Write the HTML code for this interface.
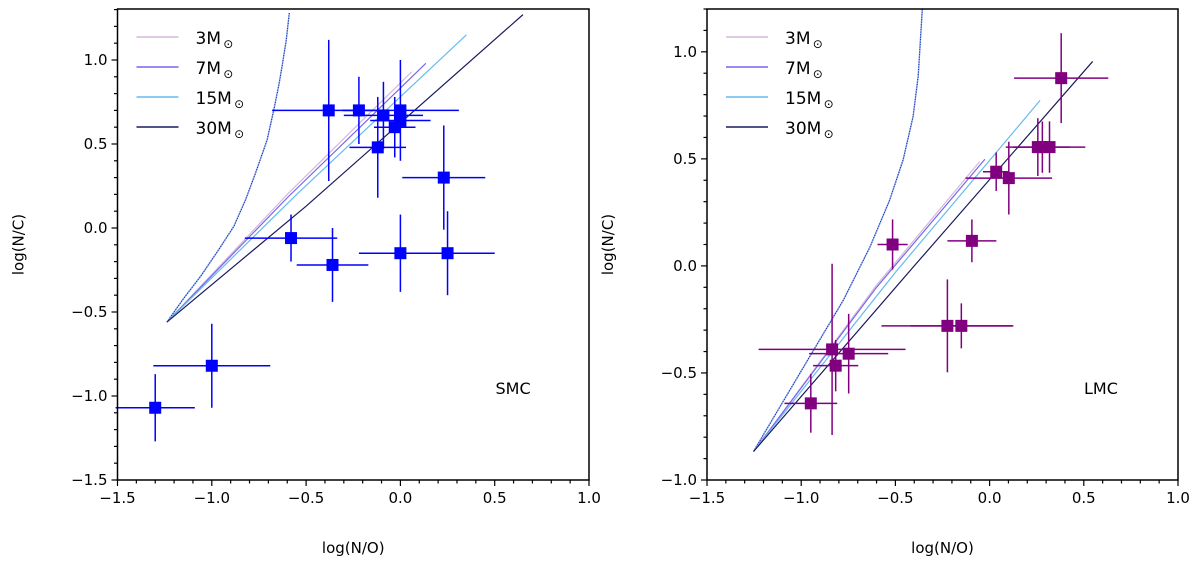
<!DOCTYPE html>
<html><head><meta charset="utf-8"><style>
body{margin:0;background:#fff;font-family:"Liberation Sans","DejaVu Sans",sans-serif}
svg text{font-family:"DejaVu Sans","Liberation Sans",sans-serif}
</style></head><body>
<svg id="fig" width="1200" height="565" xmlns="http://www.w3.org/2000/svg"></svg>
<script>
// SMC data
const smcX=[-0.38,-0.22,-0.09,0.0,0.0,-0.03,-0.12,0.23,-0.58,-0.36,0.0,0.25,-1.0,-1.3];
const smcY=[0.70,0.70,0.67,0.70,0.64,0.60,0.48,0.30,-0.06,-0.22,-0.15,-0.15,-0.82,-1.07];
const smcXerr=[0.30,0.08,0.21,0.31,0.16,0.11,0.15,0.22,0.245,0.19,0.22,0.25,0.31,0.21];
const smcYerr=[0.42,0.20,0.20,0.30,0.05,0.18,0.30,0.31,0.14,0.22,0.23,0.25,0.25,0.20];
// LMC data
const lmcX=[0.38,0.256,0.28,0.318,0.035,0.102,-0.515,-0.094,-0.224,-0.15,-0.836,-0.748,-0.817,-0.949];
const lmcY=[0.877,0.555,0.555,0.555,0.44,0.41,0.10,0.117,-0.28,-0.28,-0.39,-0.41,-0.466,-0.642];
const lmcXerr=[0.25,0.17,0.05,0.19,0.07,0.23,0.08,0.13,0.35,0.27,0.39,0.21,0.12,0.14];
const lmcYerr=[0.21,0.135,0.12,0.12,0.09,0.17,0.117,0.10,0.217,0.105,0.40,0.186,0.12,0.137];
// model tracks
const smcModelX={m3:[-1.238,-0.6,0.06],m7:[-1.238,-0.6,0.135],m15:[-1.238,-0.55,0.35],m30:[-1.238,-0.5,0.65]};
const smcModelY={m3:[-0.56,0.2,0.93],m7:[-0.56,0.18,0.98],m15:[-0.56,0.2,1.15],m30:[-0.56,0.13,1.27]};
const smcDotX=[-1.238,-1.15,-1.061,-0.97,-0.884,-0.82,-0.769,-0.707,-0.672,-0.645,-0.628,-0.605,-0.589];
const smcDotY=[-0.56,-0.42,-0.29,-0.14,0.008,0.17,0.325,0.524,0.70,0.85,0.96,1.12,1.28];
const lmcModelX={m3:[-1.253,-0.6,-0.053],m7:[-1.253,-0.6,-0.025],m15:[-1.253,-0.5,0.268],m30:[-1.253,-0.4,0.547]};
const lmcModelY={m3:[-0.867,-0.09,0.487],m7:[-0.867,-0.1,0.498],m15:[-0.867,-0.03,0.773],m30:[-0.867,0.0,0.955]};
const lmcDotX=[-1.253,-1.094,-0.935,-0.777,-0.635,-0.530,-0.459,-0.406,-0.379,-0.357];
const lmcDotY=[-0.867,-0.63,-0.395,-0.161,0.089,0.308,0.495,0.698,0.886,1.198];
const xTicks=[-1.5,-1.0,-0.5,0.0,0.5,1.0];
const smcYTicks=[-1.5,-1.0,-0.5,0.0,0.5,1.0];
const lmcYTicks=[-1.0,-0.5,0.0,0.5,1.0];
const modelNames=["3","7","15","30"];
const modelKeys=["m3","m7","m15","m30"];
const modelColors=["#d4b8d8","#7766ee","#66bbf0","#1a1a5e"];

const NS="http://www.w3.org/2000/svg";
const svg=document.getElementById('fig');
function el(tag,attrs,parent,txt){const e=document.createElementNS(NS,tag);for(const k in attrs)e.setAttribute(k,attrs[k]);if(txt!==undefined)e.textContent=txt;(parent||svg).appendChild(e);return e;}
function fmt(v){const s=Math.abs(v).toFixed(1);return (v<-1e-9?'\u2212':'')+s;}

function panel(o){
  const g=el('g',{});
  
  
  const sx=v=>o.L+(v-o.x0)/(o.x1-o.x0)*(o.R-o.L);
  const sy=v=>o.B-(v-o.y0)/(o.y1-o.y0)*(o.B-o.T);
  let d=o.dotX.map((x,i)=>(i?'L':'M')+sx(x).toFixed(1)+','+sy(o.dotY[i]).toFixed(1)).join('');
  el('path',{d:d,fill:'none',stroke:'#88aaf0','stroke-width':1.4,'stroke-linejoin':'round'},g);
  const dc=el('path',{d:d,fill:'none',stroke:'#1a2a9e','stroke-width':1.1,'stroke-dasharray':'1,1.5'},g);
  
  
  modelKeys.forEach((k,j)=>{
    const xs=o.mX[k],ys=o.mY[k];
    const p=el('path',{d:xs.map((x,i)=>(i?'L':'M')+sx(x)+','+sy(ys[i])).join(''),fill:'none',stroke:modelColors[j],'stroke-width':1.2},g);
    
    
  });
  o.X.forEach((x,i)=>{
    const y=o.Y[i];
    const pg=el('g',{},g);
    
    
    el('line',{x1:sx(x-o.XE[i]),x2:sx(x+o.XE[i]),y1:sy(y),y2:sy(y),stroke:o.col,'stroke-width':1.5},pg);
    el('line',{x1:sx(x),x2:sx(x),y1:sy(y-o.YE[i]),y2:sy(y+o.YE[i]),stroke:o.col,'stroke-width':1.5},pg);
    el('rect',{x:sx(x)-6,y:sy(y)-6,width:12,height:12,fill:o.col},pg);
  });
  const fr=el('rect',{x:o.L,y:o.T,width:o.R-o.L,height:o.B-o.T,fill:'none',stroke:'#000','stroke-width':1.5},g);
  
  
  for(let v=o.x0;v<=o.x1+1e-9;v+=0.1){
    const major=Math.abs(v*2-Math.round(v*2))<1e-6;
    el('line',{x1:sx(v),x2:sx(v),y1:o.B,y2:o.B+(major?6:3.5),stroke:'#000','stroke-width':1.2},g);
  }
  xTicks.forEach(v=>{const t=el('text',{x:sx(v),y:o.B+23,'text-anchor':'middle','font-size':15},g,fmt(v));
    });
  for(let v=o.y0;v<=o.y1+1e-9;v+=0.1){
    const major=Math.abs(v*2-Math.round(v*2))<1e-6;
    el('line',{x1:o.L,x2:o.L-(major?6:3.5),y1:sy(v),y2:sy(v),stroke:'#000','stroke-width':1.2},g);
  }
  o.yTicks.forEach(v=>{const t=el('text',{x:o.L-10,y:sy(v)+5,'text-anchor':'end','font-size':15},g,fmt(v));
    });
  const xl=el('text',{x:(o.L+o.R)/2,y:553,'text-anchor':'middle','font-size':15},g,'log(N/O)');
  
  const yx=o.L-94, ymid=(o.T+o.B)/2;
  const yl=el('text',{x:yx,y:ymid,'text-anchor':'middle','font-size':15,transform:'rotate(-90 '+yx+' '+ymid+')'},g,'log(N/C)');
  
  const rl=el('text',{x:o.L+o.lblDx,y:394,'font-size':16},g,o.label);
  
  modelNames.forEach((n,j)=>{
    const ly=37+j*30;
    const lg=el('g',{},g);
    
    
    el('line',{x1:o.L+19,x2:o.L+61,y1:ly,y2:ly,stroke:modelColors[j],'stroke-width':1.5},lg);
    el('text',{x:o.L+78,y:ly+7,'font-size':17},lg,n+'M');
    const tw=n.length*10.8+15;
    el('text',{x:o.L+78+tw+2,y:ly+11,'font-size':12},lg,'⊙');
  });
}
panel({name:'smc',L:117.5,R:589,T:9,B:480,x0:-1.5,x1:1.0,y0:-1.5,y1:1.3035,X:smcX,Y:smcY,XE:smcXerr,YE:smcYerr,col:'#0000ff',mX:smcModelX,mY:smcModelY,dotX:smcDotX,dotY:smcDotY,yTicks:smcYTicks,label:'SMC',lblDx:378});
panel({name:'lmc',L:707,R:1178,T:9,B:480,x0:-1.5,x1:1.0,y0:-1.0,y1:1.2,X:lmcX,Y:lmcY,XE:lmcXerr,YE:lmcYerr,col:'#800080',mX:lmcModelX,mY:lmcModelY,dotX:lmcDotX,dotY:lmcDotY,yTicks:lmcYTicks,label:'LMC',lblDx:377});
</script>
</body></html>
